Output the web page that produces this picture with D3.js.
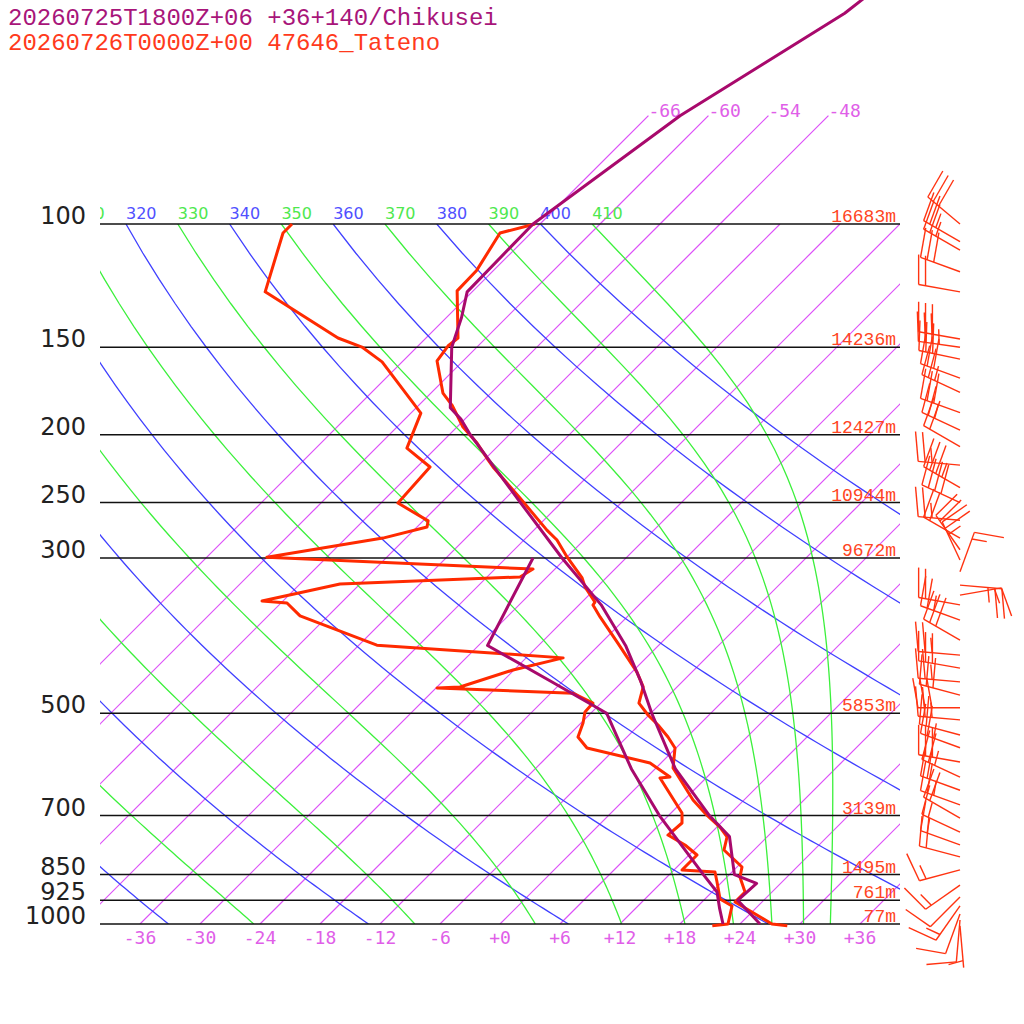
<!DOCTYPE html>
<html>
<head>
<meta charset="utf-8">
<script src="https://cdn.jsdelivr.net/npm/d3@7"></script>
<style>
  body { margin: 0; background: #fff; }
  svg { display: block; }
</style>
</head>
<body>
<svg id="chart" width="1024" height="1024"></svg>
<script>
// titles
const titles = ['20260725T1800Z+06 +36+140/Chikusei', '20260726T0000Z+00 47646_Tateno'];

// isobars with heights of Tateno
const isobars = [100, 150, 200, 250, 300, 500, 700, 850, 925, 1000];
const heightLabels = ['16683m', '14236m', '12427m', '10944m', '9672m', '5853m', '3139m', '1495m', '761m', '77m'];

// background lines
const isotherms = [-66, -60, -54, -48, -42, -36, -30, -24, -18, -12, -6, 0, 6, 12, 18, 24, 30, 36];
const upperIsotherms = [-66, -60, -54, -48];
const tempTicks = [-36, -30, -24, -18, -12, -6, 0, 6, 12, 18, 24, 30, 36];
const dryAdiabats = [240, 260, 280, 300, 320, 340, 360, 380, 400];
const moistAdiabats = [250, 270, 290, 310, 330, 350, 370, 390, 410];

// Chikusei forecast (hPa, degC)
const chikP = [1000, 925, 875, 850, 750, 700, 600, 500, 450, 400, 350, 300, 250, 200, 190, 183, 150, 136, 125, 100, 70, 50, 30];
const chikT = [26.0, 21.4, 21.6, 18.5, 14.2, 10.1, 2.0, -5.9, -10.2, -15.3, -21.8, -30.4, -40.1, -51.9, -54.4, -56.6, -62.5, -64.5, -66.5, -66.7, -62.8, -56.6, -52.3];
const chikDP = [1000, 950, 900, 850, 700, 600, 500, 450, 400, 300];
const chikTd = [22.3, 20.4, 18.5, 15.4, 5.1, -2.4, -10.4, -19.2, -29.1, -33.3];

// Tateno observation (hPa, degC)
const tatP = [1005.6, 1000, 930, 900, 857, 829, 784, 751, 727, 699, 665, 598.5, 560.5, 540.6, 519.6, 502.8, 483.5, 458.3, 436.6, 397, 364.2, 350.2, 346.8, 330, 320.3, 299, 282.8, 273.7, 246.3, 222.4, 217.3, 205.5, 195, 181.4, 174.4, 156.9, 149.4, 145.5, 124.6, 116.4, 103, 100];
const tatT = [28.9, 27.2, 21.3, 21.3, 19.3, 18.5, 15.0, 14.0, 12.3, 9.8, 6.9, 1.7, -0.1, -1.9, -4.1, -6.1, -8.2, -9.4, -11.5, -16.3, -20.7, -22.6, -22.7, -25.2, -26.4, -30.0, -32.7, -34.7, -40.6, -46.4, -47.6, -50.4, -53.4, -56.7, -58.8, -62.6, -63.0, -62.8, -67.6, -67.7, -69.1, -66.5];
const tatDP = [1005.6, 1000, 942.5, 921, 870.9, 842.8, 837.3, 796.9, 771.1, 746.3, 717.3, 694.1, 618.6, 616.6, 588.8, 560.5, 540.6, 516.2, 497.9, 483.5, 468, 460.1, 458.6, 433.6, 416.7, 399.6, 363, 347.9, 345.6, 326.8, 319.3, 311.1, 299.2, 281, 270.9, 265.5, 250.4, 222.4, 209, 186.3, 157.4, 149.9, 145.5, 125, 103, 100];
const tatTd = [21.4, 22.8, 21.4, 19.5, 17.5, 16.3, 12.8, 12.8, 10.6, 7.9, 8.1, 7.1, 1.4, 2.3, -1.1, -8.9, -10.9, -11.8, -12.7, -12.8, -15.8, -29.9, -27.7, -24.1, -20.3, -40.2, -50.8, -53.4, -56.1, -50.0, -32.7, -32.2, -60.0, -50.3, -47.0, -47.5, -52.3, -52.7, -56.9, -59.0, -68.0, -71.5, -74.8, -86.7, -90.8, -90.8];

// Tateno winds (hPa, deg, kt)
const windP = [100, 106, 109, 117, 125, 146, 150, 156, 166, 174, 186, 197, 208, 221, 238, 250, 265, 281, 292, 302, 314, 328, 339, 350, 368, 393, 413, 431, 451, 471, 491, 511, 537, 560, 587, 617, 644, 676, 706, 739, 771, 802, 837, 880, 915, 942, 968, 987, 1006];
const windDir = [310, 300, 300, 290, 280, 280, 278, 282, 290, 295, 290, 295, 300, 275, 300, 295, 275, 300, 325, 335, 20, 95, 80, 280, 290, 300, 275, 280, 275, 285, 270, 275, 285, 290, 280, 295, 290, 290, 300, 295, 290, 285, 255, 235, 225, 215, 200, 185, 175];
const windKt = [30, 25, 25, 30, 20, 30, 35, 30, 30, 25, 30, 25, 20, 25, 35, 40, 25, 20, 20, 25, 15, 25, 15, 20, 25, 30, 25, 30, 25, 30, 30, 25, 20, 25, 30, 25, 20, 25, 20, 15, 15, 20, 15, 15, 10, 15, 10, 10, 5];

const RED = '#ff2a00', MAG = '#a8096c';
const ISO = '#dc50f8', DRY = '#4040ff', MOIST = '#3cf03c';

const svg = d3.select('#chart');

const y = d3.scaleLog().domain([1000, 100]).range([924, 224]);
const xT = d3.scaleLinear().domain([-40, 40]).range([100, 900]);
const skewX = (t, p) => xT(t) + (y(1000) - y(p));
const line = d3.line().x(d => skewX(d[1], d[0])).y(d => y(d[0]));

svg.append('clipPath').attr('id', 'plot')
   .append('rect').attr('x', 100).attr('y', 224).attr('width', 800).attr('height', 700);
svg.append('clipPath').attr('id', 'labs')
   .append('rect').attr('x', 100).attr('y', 0).attr('width', 800).attr('height', 1024);

const bg = svg.append('g').attr('clip-path', 'url(#plot)').attr('fill', 'none');

// isotherms as straight skewed lines
bg.selectAll('line.iso').data(isotherms).enter().append('line')
  .attr('class', 'iso')
  .attr('x1', t => skewX(t, 1000)).attr('y1', y(1000))
  .attr('x2', t => skewX(t, 100)).attr('y2', y(100))
  .attr('stroke', ISO).attr('stroke-width', 1.2);
svg.selectAll('line.isoUp').data(upperIsotherms).enter().append('line')
  .attr('class', 'isoUp')
  .attr('x1', t => skewX(t, 100)).attr('y1', y(100))
  .attr('x2', t => skewX(t, 70)).attr('y2', y(70))
  .attr('stroke', ISO).attr('stroke-width', 1.2);

// dry adiabats
const kap = 0.2857;
const plevs = d3.range(1000, 99, -10);
bg.selectAll('path.dry').data(dryAdiabats).enter().append('path')
  .attr('class', 'dry')
  .attr('d', th => line(plevs.map(p => [p, th * Math.pow(p / 1000, kap) - 273.15])))
  .attr('stroke', DRY).attr('stroke-width', 1.3);

// pseudo adiabats, integrated down from 100 hPa
function lapse(p, T) {
  const es = 6.112 * Math.exp(17.67 * (T - 273.15) / (T - 29.65));
  const rs = 0.622 * es / (p - es);
  return (287.04 * T + 2.501e6 * rs) / (p * (1005.7 + 2.501e6 * 2.501e6 * rs * 0.622 / (287.04 * T * T)));
}
function moist(th) {
  let p = 100, T = th * Math.pow(0.1, kap);
  const pts = [[p, T - 273.15]];
  const dp = 2;
  while (p < 1000) {
    const k1 = lapse(p, T);
    const k2 = lapse(p + dp / 2, T + k1 * dp / 2);
    T += k2 * dp; p += dp;
    if (p % 10 === 0) pts.push([p, T - 273.15]);
  }
  return pts;
}
bg.selectAll('path.moist').data(moistAdiabats).enter().append('path')
  .attr('class', 'moist')
  .attr('d', th => line(moist(th)))
  .attr('stroke', MOIST).attr('stroke-width', 1.3);

// isobars
svg.selectAll('line.isobar').data(isobars).enter().append('line')
  .attr('class', 'isobar')
  .attr('x1', 100).attr('x2', 900)
  .attr('y1', p => y(p)).attr('y2', p => y(p))
  .attr('stroke', '#111').attr('stroke-width', 1.5);

svg.selectAll('text.plab').data(isobars).enter().append('text')
  .attr('class', 'plab')
  .attr('x', 86).attr('y', p => y(p))
  .attr('text-anchor', 'end')
  .style('font-family', 'DejaVu Sans').style('font-size', '24px').attr('fill', '#222')
  .text(p => p);

svg.selectAll('text.hlab').data(isobars).enter().append('text')
  .attr('class', 'hlab')
  .attr('x', 896).attr('y', p => y(p) - 2)
  .attr('text-anchor', 'end')
  .style('font-family', 'Liberation Mono').style('font-size', '18px').attr('fill', '#ff4422')
  .text((p, i) => heightLabels[i]);

// theta labels at 100 hPa (only those reaching the plot)
const thetaX = v => skewX(v * Math.pow(0.1, kap) - 273.15, 100);
const thetaLabs = dryAdiabats.map(v => ({v, c: '#5050ff'}))
  .concat(moistAdiabats.map(v => ({v, c: '#4ee84e'})))
  .filter(d => thetaX(d.v) > 70);
svg.append('g').attr('clip-path', 'url(#labs)')
  .selectAll('text').data(thetaLabs).enter().append('text')
  .attr('x', d => thetaX(d.v))
  .attr('y', 219)
  .style('font-family', 'DejaVu Sans').style('font-size', '16px').attr('fill', d => d.c)
  .text(d => d.v);

const fmt = t => (t < 0 ? '-' : '+') + Math.abs(t);

svg.selectAll('text.ttop').data(upperIsotherms).enter().append('text')
  .attr('class', 'ttop')
  .attr('x', t => skewX(t, 70)).attr('y', y(70) + 1)
  .style('font-family', 'DejaVu Sans Mono').style('font-size', '18px').attr('fill', '#e05ee8')
  .text(fmt);

svg.selectAll('text.tbot').data(tempTicks).enter().append('text')
  .attr('class', 'tbot')
  .attr('x', t => xT(t)).attr('y', 944)
  .attr('text-anchor', 'middle')
  .style('font-family', 'DejaVu Sans Mono').style('font-size', '18px').attr('fill', '#e05ee8')
  .text(fmt);

// profiles
const prof = (P, T, c) => svg.append('path')
  .attr('d', line(d3.zip(P, T)))
  .attr('fill', 'none').attr('stroke', c).attr('stroke-width', 3)
  .attr('stroke-linejoin', 'round');
prof(tatDP, tatTd, RED);
prof(tatP, tatT, RED);
prof(chikDP, chikTd, MAG);
prof(chikP, chikT, MAG);

// wind barbs
const bx = 960, staff = 42, feat = 30, step = 7;
const barbs = svg.append('g').attr('stroke', '#ff3311').attr('stroke-width', 1.4).attr('fill', 'none');
windP.forEach((p, i) => {
  const a = windDir[i] * Math.PI / 180;
  const s = [Math.sin(a), -Math.cos(a)];
  const n = [-s[1], s[0]];
  const ang = 80 * Math.PI / 180;
  const f = [Math.cos(ang) * s[0] + Math.sin(ang) * n[0], Math.cos(ang) * s[1] + Math.sin(ang) * n[1]];
  const y0 = y(p);
  const tip = [bx + s[0] * staff, y0 + s[1] * staff];
  barbs.append('line').attr('x1', bx).attr('y1', y0).attr('x2', tip[0]).attr('y2', tip[1]);
  const kt = Math.round(windKt[i] / 5) * 5;
  const full = Math.floor(kt / 10), half = (kt % 10) >= 5;
  let k = 0;
  for (let j = 0; j < full; j++, k++) {
    const px = tip[0] - s[0] * step * k, py = tip[1] - s[1] * step * k;
    barbs.append('line').attr('x1', px).attr('y1', py)
      .attr('x2', px + f[0] * feat).attr('y2', py + f[1] * feat);
  }
  if (half) {
    if (full === 0) k = 1;
    const px = tip[0] - s[0] * step * k, py = tip[1] - s[1] * step * k;
    barbs.append('line').attr('x1', px).attr('y1', py)
      .attr('x2', px + f[0] * feat / 2).attr('y2', py + f[1] * feat / 2);
  }
});

// header
svg.selectAll('text.title').data(titles).enter().append('text')
  .attr('class', 'title')
  .attr('x', 8).attr('y', (d, i) => 25 + i * 25)
  .style('font-family', 'Liberation Mono').style('font-size', '24px')
  .attr('fill', (d, i) => i === 0 ? '#a8157a' : '#ff3a1c')
  .text(d => d);
</script>
</body>
</html>
